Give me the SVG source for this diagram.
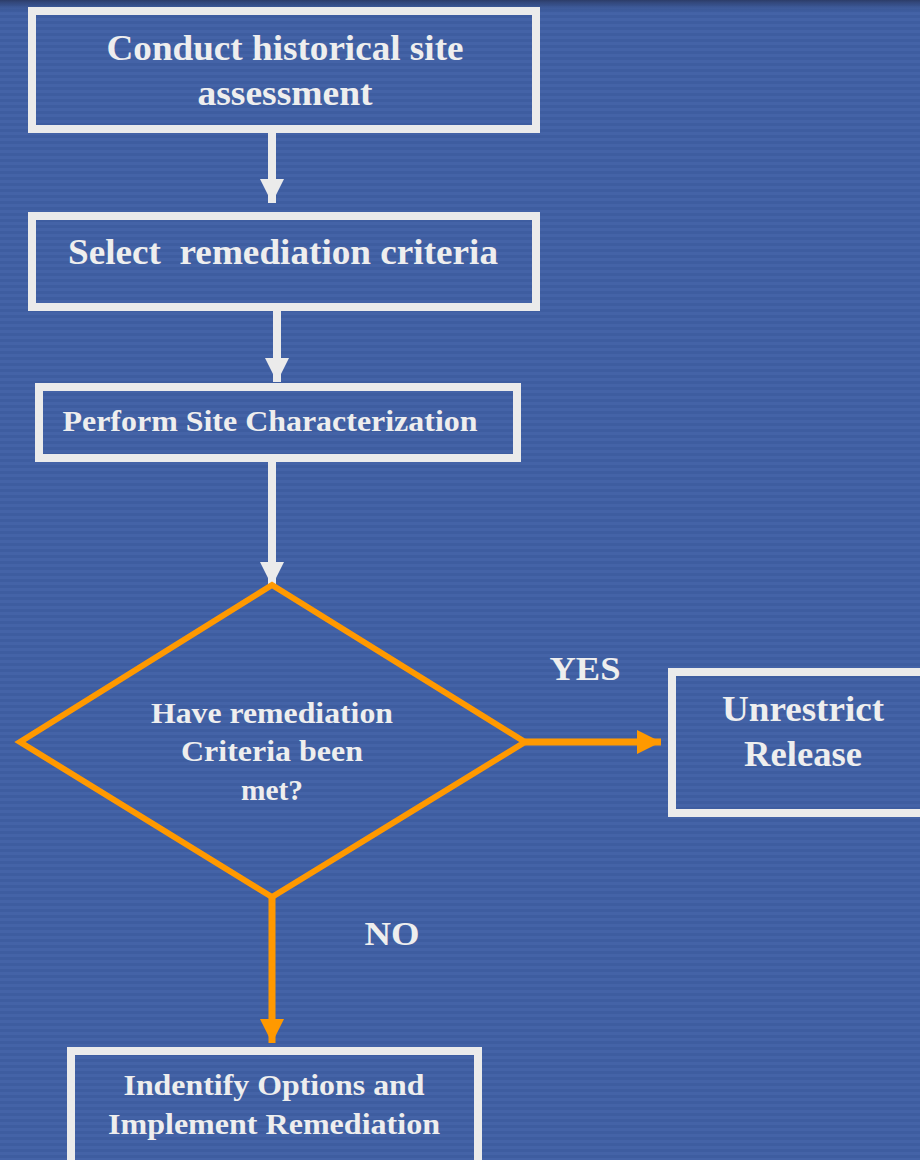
<svg xmlns="http://www.w3.org/2000/svg" width="920" height="1160" viewBox="0 0 920 1160">
<defs>
<pattern id="stripes" x="0" y="0" width="920" height="6" patternUnits="userSpaceOnUse">
<rect x="0" y="0" width="920" height="6" fill="#3E5DA0"/>
<rect x="0" y="0" width="920" height="3" fill="#4463A7"/>
</pattern>
<linearGradient id="topband" x1="0" y1="0" x2="0" y2="1">
<stop offset="0" stop-color="#2C3C68" stop-opacity="1"/>
<stop offset="1" stop-color="#3E5DA0" stop-opacity="0"/>
</linearGradient>
<marker id="wh" markerUnits="userSpaceOnUse" markerWidth="26" markerHeight="26" refX="24" refY="12" orient="auto">
<path d="M0,0 L24,12 L0,24 Z" fill="#EBEBEB"/>
</marker>
<marker id="or" markerUnits="userSpaceOnUse" markerWidth="26" markerHeight="26" refX="24" refY="12" orient="auto">
<path d="M0,0 L24,12 L0,24 Z" fill="#FF9900"/>
</marker>
</defs>
<style>
.box{fill:none;stroke:#EBEBEB;stroke-width:8}
.dia{fill:none;stroke:#FF9900;stroke-width:6;stroke-linejoin:miter}
.t{font-family:"Liberation Serif","Times New Roman",serif;font-weight:bold;fill:#EEEEEE;text-anchor:middle}
.cw{stroke:#EBEBEB;stroke-width:8;fill:none}
.co{stroke:#FF9900;stroke-width:7;fill:none}
</style>
<rect x="0" y="0" width="920" height="1160" fill="url(#stripes)"/>
<rect x="0" y="0" width="920" height="14" fill="url(#topband)"/>

<g id="connectors">
<line class="cw" x1="272" y1="133" x2="272" y2="203" marker-end="url(#wh)"/>
<line class="cw" x1="277" y1="311" x2="277" y2="382" marker-end="url(#wh)"/>
<line class="cw" x1="272" y1="462" x2="272" y2="586" marker-end="url(#wh)"/>
<line class="co" x1="525" y1="742" x2="661" y2="742" marker-end="url(#or)"/>
<line class="co" x1="272" y1="897" x2="272" y2="1043" marker-end="url(#or)"/>
<text class="t" x="585" y="680" font-size="34" textLength="71" lengthAdjust="spacingAndGlyphs">YES</text>
<text class="t" x="392" y="945" font-size="34" textLength="55" lengthAdjust="spacingAndGlyphs">NO</text>
</g>

<g id="n1">
<rect class="box" x="32" y="11" width="504" height="118"/>
<text class="t" x="285" y="60" font-size="35" textLength="357" lengthAdjust="spacingAndGlyphs">Conduct historical site</text>
<text class="t" x="285" y="105" font-size="35" textLength="175" lengthAdjust="spacingAndGlyphs">assessment</text>
</g>

<g id="n2">
<rect class="box" x="32" y="216" width="504" height="91"/>
<text class="t" x="283" y="264" font-size="35" textLength="430" lengthAdjust="spacingAndGlyphs" xml:space="preserve">Select  remediation criteria</text>
</g>

<g id="n3">
<rect class="box" x="39" y="387" width="478" height="71"/>
<text class="t" x="270" y="431" font-size="30" textLength="415" lengthAdjust="spacingAndGlyphs">Perform Site Characterization</text>
</g>

<g id="n4">
<polygon class="dia" points="272,585 525,742 272,897 20,742"/>
<text class="t" x="272" y="723" font-size="29" textLength="242" lengthAdjust="spacingAndGlyphs">Have remediation</text>
<text class="t" x="272" y="761" font-size="29" textLength="182" lengthAdjust="spacingAndGlyphs">Criteria been</text>
<text class="t" x="272" y="800" font-size="29" textLength="62" lengthAdjust="spacingAndGlyphs">met?</text>
</g>

<g id="n5">
<rect class="box" x="672" y="672" width="260" height="141"/>
<text class="t" x="803" y="721" font-size="36" textLength="162" lengthAdjust="spacingAndGlyphs">Unrestrict</text>
<text class="t" x="803" y="766" font-size="36" textLength="118" lengthAdjust="spacingAndGlyphs">Release</text>
</g>

<g id="n6">
<rect class="box" x="71" y="1051" width="407" height="120"/>
<text class="t" x="274" y="1095" font-size="30" textLength="301" lengthAdjust="spacingAndGlyphs">Indentify Options and</text>
<text class="t" x="274" y="1134" font-size="30" textLength="332" lengthAdjust="spacingAndGlyphs">Implement Remediation</text>
</g>
</svg>
